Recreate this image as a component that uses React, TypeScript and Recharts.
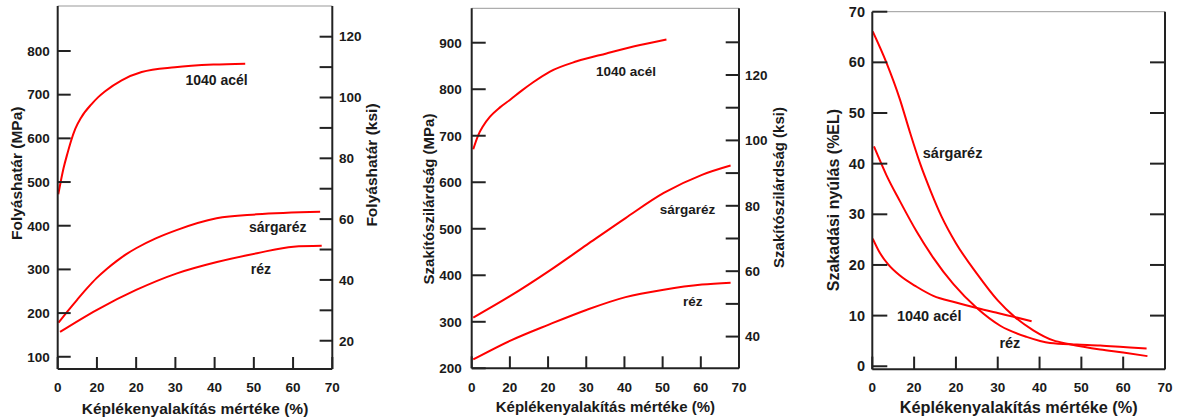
import React from "react";
import { LineChart, Line, XAxis, YAxis, ReferenceLine, ReferenceDot, Label } from "recharts";

// x axis: cold work (%) – the source figure labels the 10 tick as "20"
const pctTicks = [0, 10, 20, 30, 40, 50, 60, 70];
const pctLabels = ["0", "20", "20", "30", "40", "50", "60", "70"];

// panel 1: yield strength (MPa)
const yieldSteel: [number, number][] = [[0.15, 472], [0.75, 500], [1.5, 532], [2.5, 566], [3.4, 594], [4.5, 622], [6, 648], [8.7, 679], [10.4, 695], [12.1, 708], [16.3, 733], [21.4, 752], [29.9, 763], [39.7, 769], [47.8, 771]];
const yieldBrass: [number, number][] = [[0.2, 178], [2.5, 204], [5, 231], [7.5, 257], [9.9, 280], [12.5, 301], [15, 319], [17.5, 335], [20.1, 349], [25, 371], [30.3, 390], [40.5, 417], [50.7, 426], [66.9, 432]];
const yieldCopper: [number, number][] = [[0.6, 157], [9.9, 207], [20, 253], [30.4, 291], [40.6, 317], [50.8, 337], [60.1, 352], [67.3, 354]];
const yieldMpaTicks = [100, 200, 300, 400, 500, 600, 700, 800];
const yieldKsiTicks = [20, 30, 40, 50, 60, 70, 80, 90, 100, 110, 120];

// panel 2: tensile strength (MPa)
const tensileSteel: [number, number][] = [[0.4, 671], [1.7, 701], [3, 721], [4.8, 741], [7.4, 761], [10, 777], [13.1, 797], [16.1, 815], [20.5, 838], [27.5, 860], [35.3, 877], [44.1, 895], [51, 907]];
const tensileBrass: [number, number][] = [[0.4, 309], [10, 355], [20.2, 409], [30.2, 466], [40.3, 523], [50.3, 577], [60.3, 616], [67.8, 636]];
const tensileCopper: [number, number][] = [[0.4, 219], [10, 259], [20.2, 294], [30.2, 326], [40.3, 353], [50.3, 369], [60.3, 380], [67.8, 384]];
const tensileMpaTicks = [200, 300, 400, 500, 600, 700, 800, 900];
const tensileKsiTicks = [40, 50, 60, 70, 80, 90, 100, 110, 120, 130];

// panel 3: ductility (%EL)
const elongBrass: [number, number][] = [[0.1, 66.1], [3.4, 59.9], [6.6, 52.7], [9, 46.2], [11.4, 40.1], [14, 34.5], [16.6, 29.5], [20, 24.3], [25, 18.3], [30, 13.0], [34.1, 9.7], [38.5, 7.1], [43.3, 5.1], [47, 4.4], [54.5, 3.3], [60, 2.7], [65.8, 2.0]];
const elongCopper: [number, number][] = [[0.4, 43.4], [3.4, 37.7], [6.6, 32.6], [10.6, 26.6], [14.6, 21.4], [19.4, 16.2], [25, 11.5], [30.6, 8.0], [36.9, 5.8], [42.5, 4.6], [48.9, 4.3], [54.5, 4.1], [60, 3.8], [65.6, 3.5]];
const elongSteel: [number, number][] = [[0.1, 25.2], [1.8, 22.4], [3.8, 20.1], [6.6, 17.9], [10.6, 15.7], [14.6, 13.9], [20, 12.6], [25, 11.5], [30, 10.5], [34.1, 9.7], [38.1, 8.9]];
const elongTicks = [0, 10, 20, 30, 40, 50, 60, 70];
const elongRightTicks = [10, 20, 30, 40, 50, 60];

const FONT = '"Liberation Sans", Arial, Helvetica, sans-serif';
const INK = "#1a1a1a";
const RED = "#ff0000";
const axisLine = { stroke: "#222", strokeWidth: 2 };
const tickLine = { stroke: "#222", strokeWidth: 2 };

const pts = (a: [number, number][]) => a.map(([x, y]) => ({ x, y }));
const every20 = (v: number) => (v % 20 === 0 ? String(v) : "");
const tick = (size: number) => ({ fontSize: size, fontWeight: 700, fill: INK, fontFamily: FONT });

function PctTick({ x, y, payload, size }: any) {
  const i = pctTicks.indexOf(Number(payload.value));
  return (
    <text x={x} y={y} dy="0.71em" textAnchor="middle" fontSize={size} fontWeight={700} fill={INK} fontFamily={FONT}>
      {i >= 0 ? pctLabels[i] : String(payload.value)}
    </text>
  );
}

function Title({ viewBox, value, dx = 0, dy = 0, angle = 0, size = 15 }: any) {
  const cx = viewBox.x + viewBox.width / 2 + dx;
  const cy = viewBox.y + viewBox.height / 2 + dy;
  return (
    <text
      x={cx}
      y={cy}
      textAnchor="middle"
      dominantBaseline="central"
      transform={angle ? `rotate(${angle} ${cx} ${cy})` : undefined}
      fontSize={size}
      fontWeight={700}
      fill={INK}
      fontFamily={FONT}
    >
      {value}
    </text>
  );
}

const tag = (value: string, size: number) => <Label content={(p: any) => <Title viewBox={p.viewBox} value={value} size={size} />} />;

function curve(data: [number, number][], yAxisId: string) {
  return <Line data={pts(data)} dataKey="y" yAxisId={yAxisId} type="monotone" stroke={RED} strokeWidth={2} dot={false} activeDot={false} isAnimationActive={false} />;
}

export default function App() {
  return (
    <div style={{ position: "absolute", left: 0, top: 0, width: 1183, height: 420, background: "#fff", fontFamily: FONT }}>
      {/* yield strength */}
      <div style={{ position: "absolute", left: 0, top: 0 }}>
        <LineChart width={400} height={420} margin={{ top: 6, right: 0, bottom: 0, left: 0 }}>
          <XAxis type="number" dataKey="x" domain={[0, 70]} allowDataOverflow ticks={pctTicks} interval={0}
            height={51} axisLine={axisLine} tickLine={tickLine} tickSize={-12} tickMargin={25} tick={<PctTick size={13.5} />}>
            <Label content={(p: any) => <Title viewBox={p.viewBox} value="Képlékenyalakítás mértéke (%)" dy={13.5} size={15.5} />} />
          </XAxis>
          <YAxis yAxisId="l" type="number" domain={[72, 903]} allowDataOverflow ticks={yieldMpaTicks} interval={0} width={57.7}
            axisLine={axisLine} tickLine={tickLine} tickSize={-13} tickMargin={21} tick={tick(13.5)}>
            <Label content={(p: any) => <Title viewBox={p.viewBox} value="Folyáshatár (MPa)" dx={-12.2} dy={-14.2} angle={-90} size={15.5} />} />
          </YAxis>
          <YAxis yAxisId="r" orientation="right" type="number" domain={[10.7, 130.1]} allowDataOverflow ticks={yieldKsiTicks} interval={0}
            tickFormatter={every20} width={67.7} axisLine={axisLine} tickLine={tickLine} tickSize={-12.7} tickMargin={19.4} tick={tick(13.5)}>
            <Label content={(p: any) => <Title viewBox={p.viewBox} value="Folyáshatár (ksi)" dx={5.5} dy={-22.5} angle={-90} size={15.5} />} />
          </YAxis>
          <ReferenceLine yAxisId="l" y={903} stroke="#999" strokeWidth={1} />
          {curve(yieldSteel, "l")}
          {curve(yieldBrass, "l")}
          {curve(yieldCopper, "l")}
          <ReferenceDot yAxisId="l" x={40.5} y={733} r={0} fill="none" stroke="none">{tag("1040 acél", 14)}</ReferenceDot>
          <ReferenceDot yAxisId="l" x={56.1} y={397} r={0} fill="none" stroke="none">{tag("sárgaréz", 14)}</ReferenceDot>
          <ReferenceDot yAxisId="l" x={51.8} y={300} r={0} fill="none" stroke="none">{tag("réz", 14)}</ReferenceDot>
        </LineChart>
      </div>

      {/* tensile strength */}
      <div style={{ position: "absolute", left: 400, top: 0 }}>
        <LineChart width={400} height={420} margin={{ top: 8.3, right: 0, bottom: 0, left: 0 }}>
          <XAxis type="number" dataKey="x" domain={[0, 70]} allowDataOverflow ticks={pctTicks} interval={0}
            height={51.7} axisLine={axisLine} tickLine={tickLine} tickSize={-12} tickMargin={25.7} tick={<PctTick size={13.5} />}>
            <Label content={(p: any) => <Title viewBox={p.viewBox} value="Képlékenyalakítás mértéke (%)" dy={12.5} size={15} />} />
          </XAxis>
          <YAxis yAxisId="l" type="number" domain={[200, 974]} allowDataOverflow ticks={tensileMpaTicks} interval={0} width={71.7}
            axisLine={axisLine} tickLine={tickLine} tickSize={-14} tickMargin={24} tick={tick(13.5)}>
            <Label content={(p: any) => <Title viewBox={p.viewBox} value="Szakítószilárdság (MPa)" dx={-7.5} dy={10.7} angle={-90} size={15} />} />
          </YAxis>
          <YAxis yAxisId="r" orientation="right" type="number" domain={[30.3, 140.4]} allowDataOverflow ticks={tensileKsiTicks} interval={0}
            tickFormatter={every20} width={61} axisLine={axisLine} tickLine={tickLine} tickSize={-13.3} tickMargin={19.3} tick={tick(13.5)}>
            <Label content={(p: any) => <Title viewBox={p.viewBox} value="Szakítószilárdság (ksi)" dx={8.8} dy={-0.8} angle={-90} size={15} />} />
          </YAxis>
          <ReferenceLine yAxisId="l" y={974} stroke="#999" strokeWidth={1} />
          {curve(tensileSteel, "l")}
          {curve(tensileBrass, "l")}
          {curve(tensileCopper, "l")}
          <ReferenceDot yAxisId="l" x={40.4} y={838} r={0} fill="none" stroke="none">{tag("1040 acél", 13.5)}</ReferenceDot>
          <ReferenceDot yAxisId="l" x={56.5} y={542} r={0} fill="none" stroke="none">{tag("sárgaréz", 13.5)}</ReferenceDot>
          <ReferenceDot yAxisId="l" x={57.9} y={343} r={0} fill="none" stroke="none">{tag("réz", 13.5)}</ReferenceDot>
        </LineChart>
      </div>

      {/* ductility */}
      <div style={{ position: "absolute", left: 800, top: 0 }}>
        <LineChart width={383} height={420} margin={{ top: 11.7, right: 0, bottom: 0, left: 0 }}>
          <XAxis type="number" dataKey="x" domain={[0, 70]} allowDataOverflow ticks={pctTicks} interval={0}
            height={50.7} axisLine={axisLine} tickLine={tickLine} tickSize={-12.7} tickMargin={25.4} tick={<PctTick size={13.5} />}>
            <Label content={(p: any) => <Title viewBox={p.viewBox} value="Képlékenyalakítás mértéke (%)" dy={12} size={16.3} />} />
          </XAxis>
          <YAxis yAxisId="l" type="number" domain={[-0.6, 70]} allowDataOverflow ticks={elongTicks} interval={0} width={72.3}
            axisLine={axisLine} tickLine={tickLine} tickSize={-15} tickMargin={22.3} tick={tick(14.5)}>
            <Label content={(p: any) => <Title viewBox={p.viewBox} value="Szakadási nyúlás (%EL)" dx={-2.9} dy={9.5} angle={-90} size={16} />} />
          </YAxis>
          <YAxis yAxisId="r" orientation="right" type="number" domain={[-0.6, 70]} allowDataOverflow ticks={elongRightTicks} interval={0}
            tickFormatter={() => ""} width={18} axisLine={axisLine} tickLine={tickLine} tickSize={-15} tickMargin={4} />
          <ReferenceLine yAxisId="l" y={70} stroke="#999" strokeWidth={1} />
          {curve(elongBrass, "l")}
          {curve(elongCopper, "l")}
          {curve(elongSteel, "l")}
          <ReferenceDot yAxisId="l" x={19.2} y={42.1} r={0} fill="none" stroke="none">{tag("sárgaréz", 14.5)}</ReferenceDot>
          <ReferenceDot yAxisId="l" x={13.6} y={10.0} r={0} fill="none" stroke="none">{tag("1040 acél", 14.5)}</ReferenceDot>
          <ReferenceDot yAxisId="l" x={32.9} y={4.5} r={0} fill="none" stroke="none">{tag("réz", 14.5)}</ReferenceDot>
        </LineChart>
      </div>
    </div>
  );
}
